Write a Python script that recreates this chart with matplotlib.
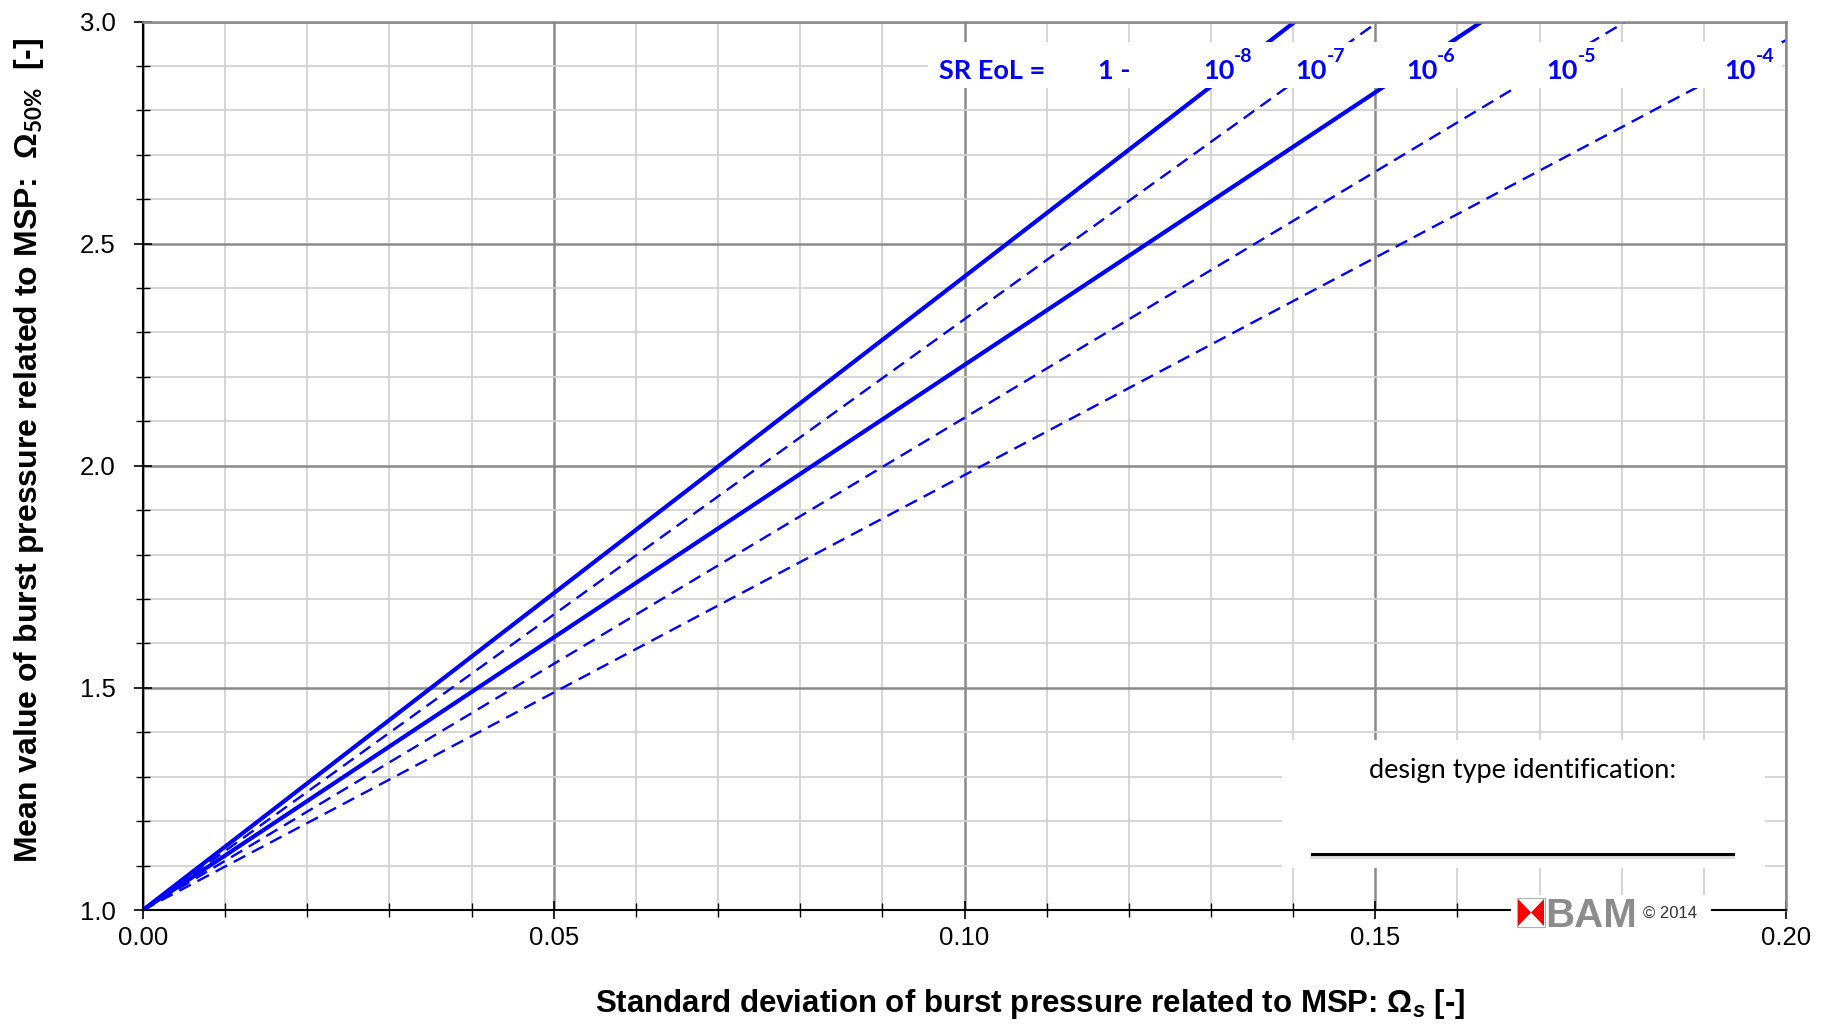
import numpy as np
import matplotlib
matplotlib.use("Agg")
import matplotlib.pyplot as plt
from matplotlib.ticker import MultipleLocator, FormatStrFormatter
from matplotlib.patches import Rectangle, Polygon

plt.rcParams['font.family'] = ['Liberation Sans', 'DejaVu Sans']
plt.rcParams['mathtext.fontset'] = 'custom'
plt.rcParams['mathtext.rm'] = 'Lato:bold'
plt.rcParams['mathtext.bf'] = 'Lato:bold'
plt.rcParams['mathtext.it'] = 'Liberation Sans:italic:bold'

# lines: Omega_50% vs Omega_s, read at sigma = 0, 0.10, 0.20
sigma = [0.0, 0.10, 0.20]
omega_1e8 = [1.0, 2.426, 3.852]
omega_1e7 = [1.0, 2.330, 3.660]
omega_1e6 = [1.0, 2.227, 3.454]
omega_1e5 = [1.0, 2.108, 3.216]
omega_1e4 = [1.0, 1.979, 2.958]
series = [omega_1e8, omega_1e7, omega_1e6, omega_1e5, omega_1e4]
line_styles = ['-', '--', '-', '--', '--']

# label row
label_base = ['SR EoL =', '1 -', '10', '10', '10', '10', '10']
label_sup = ['', '', '-8', '-7', '-6', '-5', '-4']
label_x = [0.1034, 0.1182, 0.1320, 0.1433, 0.1567, 0.1738, 0.1955]
label_y = 2.889

xticks = [0.00, 0.05, 0.10, 0.15, 0.20]
yticks = [1.0, 1.5, 2.0, 2.5, 3.0]

W, H = 1827, 1027
fig = plt.figure(figsize=(W / 100, H / 100), dpi=100)
ax = fig.add_axes([143 / W, 1 - 910 / H, (1786 - 143) / W, (910 - 21.5) / H])

blue = '#0000ff'
for ys, ls in zip(series, line_styles):
    if ls == '-':
        ax.plot(sigma, ys, color=blue, lw=3.0, solid_capstyle='butt', zorder=2)
    else:
        ax.plot(sigma, ys, color=blue, lw=1.7, ls=(0, (5.5, 3.2)), zorder=2)

ax.set_xlim(0, 0.2)
ax.set_ylim(1, 3)
ax.set_xticks(xticks)
ax.set_yticks(yticks)
ax.xaxis.set_major_formatter(FormatStrFormatter('%.2f'))
ax.yaxis.set_major_formatter(FormatStrFormatter('%.1f'))
ax.xaxis.set_minor_locator(MultipleLocator(0.01))
ax.yaxis.set_minor_locator(MultipleLocator(0.1))
ax.set_axisbelow(True)
ax.grid(which='major', color='#8a8a8a', lw=1.8)
ax.grid(which='minor', color='#d2d2d2', lw=1.3)

ax.tick_params(which='major', direction='inout', length=13, width=1.2, labelsize=18.5, color='black')
ax.tick_params(which='minor', direction='inout', length=10, width=1.0, color='black')
ax.tick_params(axis='y', which='major', pad=13)
ax.tick_params(axis='x', which='major', pad=5)
for s in ['left', 'bottom']:
    ax.spines[s].set_color('black')
    ax.spines[s].set_linewidth(1.5)
for s in ['top', 'right']:
    ax.spines[s].set_color('#8a8a8a')
    ax.spines[s].set_linewidth(1.8)

# white band behind SR labels
ax.add_patch(Rectangle((0.0955, 2.85), 0.104, 0.103, fc='white', ec='none', zorder=3))
for base, sup, x in zip(label_base, label_sup, label_x):
    if sup:
        ax.annotate(base, (x, label_y), xytext=(5, 0), textcoords='offset points',
                    color=blue, fontsize=19.5, fontweight='bold', family='Lato',
                    ha='right', va='center', zorder=4)
        ax.annotate(sup, (x, label_y), xytext=(5, 4), textcoords='offset points',
                    color=blue, fontsize=14, fontweight='bold', family='Lato',
                    ha='left', va='bottom', zorder=4)
    else:
        ax.text(x, label_y, base, color=blue, fontsize=19.5, fontweight='bold', family='Lato',
                ha='center', va='center', zorder=4)

# design type box
ax.add_patch(Rectangle((0.1386, 1.095), 0.0588, 0.288, fc='white', ec='none', zorder=3))
ax.text(0.168, 1.315, 'design type identification:', fontsize=19.5, family='Lato',
        ha='center', va='center', zorder=4)
ax.plot([0.1423, 0.1935], [1.120, 1.120], color='#c8c8c8', lw=3, alpha=0.6, zorder=4)
ax.plot([0.1423, 0.1935], [1.126, 1.126], color='black', lw=2.2, zorder=5)

# axis labels
fig.text(29 / W, 1 - 450 / H, 'Mean value of burst pressure related to MSP:  \u03a9$_{\\mathit{50\\%}}$  [-]',
         rotation=90, ha='center', va='center', fontsize=23, fontweight='bold')
fig.text(1030 / W, 1 - 1004 / H, 'Standard deviation of burst pressure related to MSP: \u03a9$_{s}$ [-]',
         ha='center', va='center', fontsize=22.5, fontweight='bold')

# BAM logo on the x axis
fig.add_artist(Rectangle((1511 / W, 1 - 931 / H), 200 / W, 36 / H, transform=fig.transFigure,
                         fc='white', ec='none', zorder=5))
fig.add_artist(Rectangle((1517 / W, 1 - 927 / H), 28 / W, 29 / H, transform=fig.transFigure,
                         fc='white', ec='#b0b0b0', lw=0.8, zorder=6))
x0, y0, w, h = 1518 / W, 1 - 926 / H, 26 / W, 27 / H
fig.add_artist(Polygon([(x0, y0), (x0 + w / 2, y0 + h / 2), (x0, y0 + h)], closed=True,
                       transform=fig.transFigure, fc='#ff0000', ec='none', zorder=7))
fig.add_artist(Polygon([(x0 + w, y0), (x0 + w / 2, y0 + h / 2), (x0 + w, y0 + h)], closed=True,
                       transform=fig.transFigure, fc='#ff0000', ec='none', zorder=7))
fig.text(1545 / W, 1 - 927 / H, 'BAM', fontsize=29, fontweight='bold', color='#8c8c8c',
         ha='left', va='baseline', zorder=7)
fig.text(1643 / W, 1 - 913 / H, '\u00a9 2014', fontsize=12, color='#333333',
         ha='left', va='center', zorder=7)

fig.savefig('out.png', dpi=100, facecolor='white')
